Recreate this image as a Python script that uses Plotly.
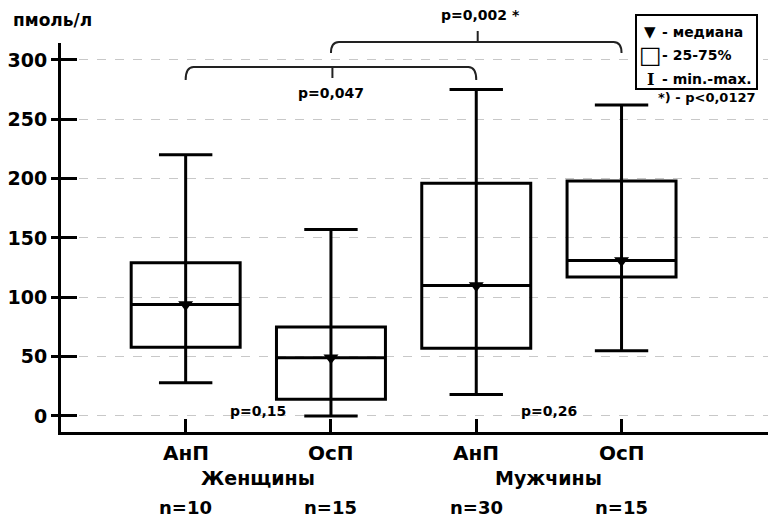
import plotly.graph_objects as go

# ---- data ----
categories = ["АнП", "ОсП", "АнП", "ОсП"]
groups = ["Женщины", "Мужчины"]
n_labels = ["n=10", "n=15", "n=30", "n=15"]
positions = [1, 2, 3, 4]
q1 = [58, 14, 57, 117]
median = [94, 49, 110, 131]
q3 = [129, 75, 196, 198]
vmin = [28, 0, 18, 55]
vmax = [220, 157, 275, 262]
y_ticks = [0, 50, 100, 150, 200, 250, 300]
p_texts = ["p=0,047", "p=0,002 *", "p=0,15", "p=0,26"]

W, H = 768, 519
L, R, T, B = 61, 0, 43, 87
PW, PH = W - L - R, H - T - B
X_RANGE = [0.142, 5.008]
Y_RANGE = [-13.5, 314.2]

def px_x(px):
    return (px - L) / PW

def px_y(py):
    return (H - B - py) / PH

FONT = "DejaVu Sans"

fig = go.Figure()

# boxes with whiskers
fig.add_trace(go.Box(
    x=positions, q1=q1, median=median, q3=q3,
    lowerfence=vmin, upperfence=vmax,
    width=0.75, whiskerwidth=0.49,
    line=dict(color="black", width=3),
    fillcolor="rgba(0,0,0,0)",
    boxpoints=False, showlegend=False, hoverinfo="skip",
))

# vertical line running through each box
xs, ys = [], []
for p, a, b in zip(positions, q1, q3):
    xs += [p, p, None]
    ys += [a, b, None]
fig.add_trace(go.Scatter(x=xs, y=ys, mode="lines",
                         line=dict(color="black", width=3),
                         showlegend=False, hoverinfo="skip"))

# median markers
fig.add_trace(go.Scatter(x=positions, y=median, mode="markers",
                         marker=dict(symbol="triangle-down", size=13, color="black"),
                         showlegend=False, hoverinfo="skip"))

# invisible trace on overlay axis (for crossing ticks)
fig.add_trace(go.Scatter(x=[positions[0]], y=[y_ticks[0]], yaxis="y2",
                         mode="markers", marker=dict(opacity=0),
                         showlegend=False, hoverinfo="skip"))

annotations = []
shapes = []

def txt(x, y, text, size, xref="x", xanchor="center", family=FONT):
    annotations.append(dict(x=x, y=y, xref=xref, yref="paper", text=text,
                            showarrow=False,
                            font=dict(size=size, family=family, color="black", weight="bold"),
                            xanchor=xanchor, yanchor="middle"))

# category labels, group labels, n labels
for p, c, n in zip(positions, categories, n_labels):
    txt(p, px_y(453), c, 20)
    txt(p, px_y(507), n, 18)
for g, gx in zip(groups, [1.5, 3.5]):
    txt(gx, px_y(478), g, 19)

# unit title
txt(px_x(11), px_y(20), "пмоль/л", 17, xref="paper", xanchor="left")

# brackets
def bracket(x0, x1, ytop, yend, tick_to, tick_x):
    r = 0.055
    yt, ye = px_y(ytop), px_y(yend)
    path = (f"M {x0},{ye} Q {x0},{yt} {x0 + r},{yt} "
            f"L {x1 - r},{yt} Q {x1},{yt} {x1},{ye}")
    shapes.append(dict(type="path", path=path, xref="x", yref="paper",
                       line=dict(color="#222", width=2)))
    shapes.append(dict(type="line", x0=tick_x, x1=tick_x, y0=yt, y1=px_y(tick_to),
                       xref="x", yref="paper", line=dict(color="#222", width=2)))

bracket(1, 3, 67, 80, 78, 2.01)
bracket(2, 4, 42, 53, 31, 3.01)

txt(2.0, px_y(93), p_texts[0], 14)
txt(3.03, px_y(15), p_texts[1], 14)
txt(1.5, px_y(411), p_texts[2], 14)
txt(3.5, px_y(411), p_texts[3], 14)

# legend box
shapes.append(dict(type="rect", xref="paper", yref="paper",
                   x0=px_x(636), x1=px_x(757), y0=px_y(89), y1=px_y(15),
                   line=dict(color="black", width=2), fillcolor="white", layer="above"))
leg_rows = [("▼", "- медиана", 32, "DejaVu Sans", 15),
            ("□", "- 25-75%", 55, "DejaVu Sans", 24),
            ("I", "- min.-max.", 79, "DejaVu Serif", 16)]
for sym, label, py, fam, sz in leg_rows:
    txt(px_x(650), px_y(py), sym, sz, xref="paper", family=fam)
    txt(px_x(660), px_y(py), label, 14, xref="paper", xanchor="left")
txt(px_x(758), px_y(98), "*) - p<0,0127", 13, xref="paper", xanchor="right")

fig.update_layout(
    width=W, height=H,
    margin=dict(l=L, r=R, t=T, b=B, pad=0),
    paper_bgcolor="white", plot_bgcolor="white",
    font=dict(family=FONT, color="black", size=17),
    showlegend=False,
    xaxis=dict(range=X_RANGE, tickvals=positions, ticktext=["", "", "", ""],
               ticks="inside", ticklen=13, tickwidth=3, tickcolor="black",
               showline=True, linewidth=3, linecolor="black",
               showgrid=False, zeroline=False),
    yaxis=dict(range=Y_RANGE, tickvals=y_ticks,
               ticks="outside", ticklen=7, tickwidth=3, tickcolor="black",
               tickfont=dict(size=19, family=FONT, color="black", weight="bold"),
               showline=True, linewidth=3, linecolor="black",
               showgrid=True, gridcolor="#c8c8c8", gridwidth=1, griddash="dash",
               zeroline=False),
    yaxis2=dict(range=Y_RANGE, tickvals=y_ticks, overlaying="y", side="left",
                ticks="inside", ticklen=16, tickwidth=3, tickcolor="black",
                showticklabels=False, showgrid=False, zeroline=False, showline=False),
    annotations=annotations,
    shapes=shapes,
)

fig.write_html("out.html", config={"displayModeBar": False},
               post_script="document.body.style.margin='0';document.body.style.padding='0';")
